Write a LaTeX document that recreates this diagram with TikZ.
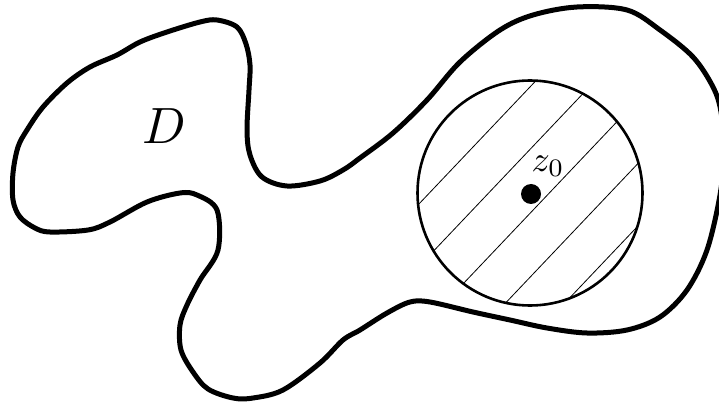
\documentclass[tikz,border=0pt]{standalone}
\begin{document}
\begin{tikzpicture}[x=1pt,y=-1pt,
  outline/.style={line width=5pt, line join=round},
  diskline/.style={line width=2.6pt},
  hatchline/.style={line width=0.8pt},
  dotmark/.style={circle, fill=black, inner sep=0pt, minimum size=20pt},
  biglabel/.style={inner sep=0pt, scale=5.1},
  smalllabel/.style={inner sep=0pt, scale=3.6}]
\useasboundingbox (0,0) rectangle (719,403);
\clip (0,0) rectangle (719,403);
% domain outline
\draw[outline] plot[smooth cycle, tension=0.55] coordinates {
 (217,20) (237,27) (246,44) (250,65) (249,90) (247,130) (250,155) (262,177)
 (287,186) (320,181) (343,170) (360,158) (393,133) (427,100) (460,62)
 (500,30) (533,15) (577,7) (627,10) (660,30) (693,57) (713,87) (721,112)
 (724,152) (720,195) (707,250) (687,290) (660,317) (627,330) (587,333)
 (547,328) (510,320) (473,312) (430,302) (410,302) (387,313) (360,330)
 (343,340) (320,363) (283,390) (253,398) (233,398) (208,389) (193,372)
 (181,350) (180,325) (187,305) (200,280) (218,250) (217,210) (197,195)
 (180,193) (147,202) (110,222) (88,230) (50,232) (35,228) (20,217)
 (13,200) (13,173) (18,147) (27,130) (43,107) (67,83) (90,67) (117,55)
 (140,42) (167,32) (200,22)};
% disk
\node[circle, draw, diskline, minimum size=225pt, inner sep=0pt] (disk) at (530,193) {};
\begin{scope}
  \clip (530,193) circle[radius=112pt];
  \begin{scope}[shift={(530,193)}, rotate=46.5]
    \foreach \o in {-73,-30,14,58,101}
      \draw[hatchline] (-140,\o) -- (140,\o);
  \end{scope}
\end{scope}
\node[dotmark] (center) at (531,194) {};
\node[smalllabel] (zlabel) at (548,166) {$z_0$};
\node[biglabel] (Dlabel) at (164,126) {$D$};
\end{tikzpicture}
\end{document}
